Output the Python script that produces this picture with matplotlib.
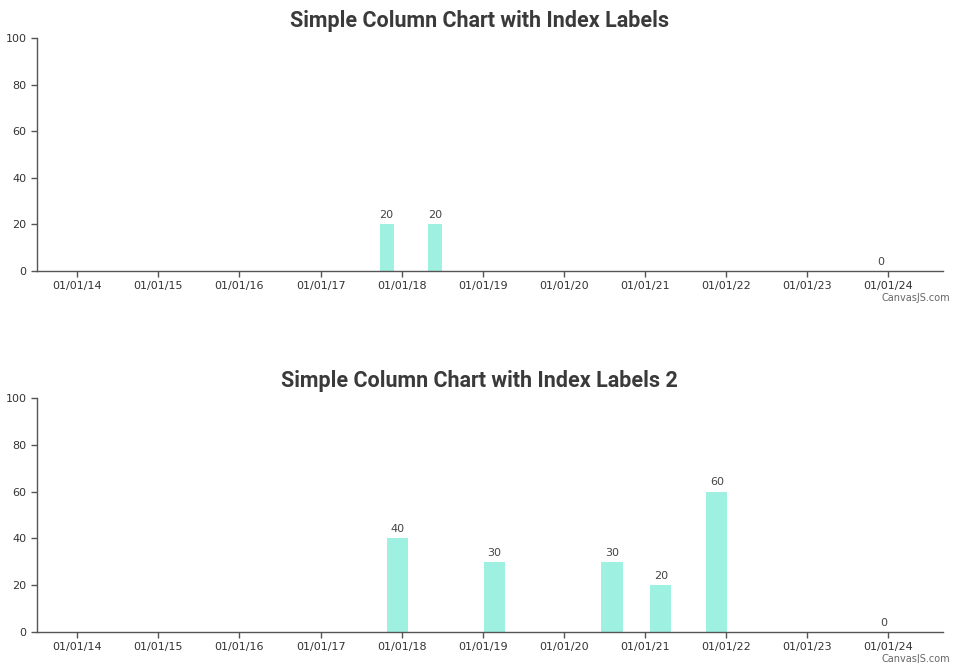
import numpy as np
import pandas as pd
import matplotlib
matplotlib.use("Agg")
import matplotlib.pyplot as plt
import matplotlib.dates as mdates

# data
fechas1 = pd.to_datetime(["2017-10-25", "2018-05-30", "2023-12-01"])
valores1 = [20, 20, 0]

fechas2 = pd.to_datetime(["2017-12-13", "2019-02-23", "2020-08-06",
                          "2021-03-14", "2021-11-21", "2023-12-14"])
valores2 = [40, 30, 30, 20, 60, 0]

titulos = ["Simple Column Chart with Index Labels",
           "Simple Column Chart with Index Labels 2"]
ticks_x = pd.date_range("2014-01-01", "2024-01-01", freq="YS")
ticks_y = [0, 20, 40, 60, 80, 100]

color_barra = "#9ef0e1"
gris = "#444444"

fig = plt.figure(figsize=(9.58, 6.63), dpi=100)
ax1 = fig.add_axes([0.0386, 0.5913, 0.9457, 0.3514])
ax2 = fig.add_axes([0.0386, 0.0468, 0.9457, 0.3529])

def dibujar(ax, fechas, valores, ancho, titulo):
    ax.bar(fechas, valores, width=ancho, color=color_barra, align="center")
    for f, v in zip(fechas, valores):
        ax.annotate(str(v), (mdates.date2num(f), v), xytext=(0, 3),
                    textcoords="offset points", ha="center", va="bottom",
                    fontsize=8, color=gris)
    ax.set_xlim(pd.Timestamp("2013-07-03"), pd.Timestamp("2024-09-05"))
    ax.set_ylim(0, 100)
    ax.set_xticks(ticks_x)
    ax.xaxis.set_major_formatter(mdates.DateFormatter("%m/%d/%y"))
    ax.set_yticks(ticks_y)
    for s in ["top", "right"]:
        ax.spines[s].set_visible(False)
    for s in ["left", "bottom"]:
        ax.spines[s].set_color("#555555")
        ax.spines[s].set_linewidth(1)
    ax.tick_params(axis="both", colors="#555555", labelcolor="#333333",
                   labelsize=8, length=4, width=1)
    # titulo centrado en la figura, no en los ejes
    ax.set_title(titulo, fontsize=15.5, fontweight="bold", family="Roboto",
                 color="#3a3a3a", pad=8, x=0.488)
    ax.text(1.008, -0.095, "CanvasJS.com", transform=ax.transAxes, fontsize=7,
            color="#666666", ha="right", va="top")

dibujar(ax1, fechas1, valores1, 63, titulos[0])
dibujar(ax2, fechas2, valores2, 95, titulos[1])

plt.savefig("out.png", dpi=100)
